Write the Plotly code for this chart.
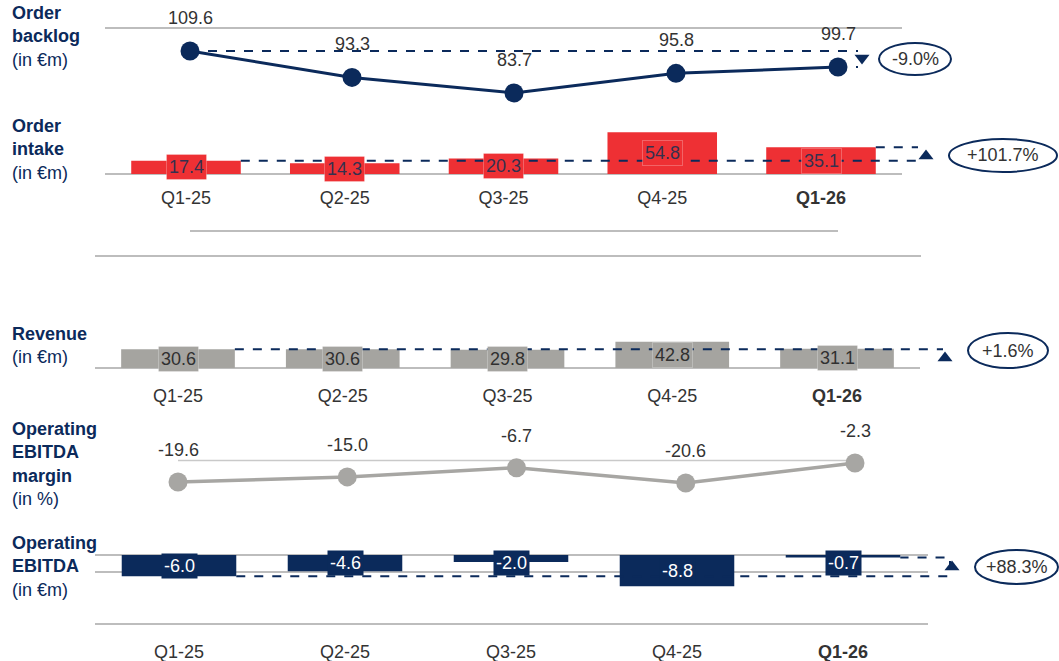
import plotly.graph_objects as go

# ---------------- data ----------------
quarters = ["Q1-25", "Q2-25", "Q3-25", "Q4-25", "Q1-26"]
order_backlog = [109.6, 93.3, 83.7, 95.8, 99.7]
order_intake = [17.4, 14.3, 20.3, 54.8, 35.1]
revenue = [30.6, 30.6, 29.8, 42.8, 31.1]
ebitda_margin = [-19.6, -15.0, -6.7, -20.6, -2.3]
op_ebitda = [-6.0, -4.6, -2.0, -8.8, -0.7]

# ---------------- style / geometry ----------------
W, H = 1059, 661
NAVY = "#0b2a5b"
RED = "#ee3034"
GRAY_BAR = "#a5a4a0"
GRAY_LINE = "#a7a6a3"
RULE = "#bdbdbd"
TXT = "#333333"
FONT = "Liberation Sans, Arial, sans-serif"
FS = 18

# per panel: first category centre (px), category spacing (px), zero line (py), px per unit
geo = {
    1: (190, 162.0, 228.55, 1.62),
    2: (186, 158.75, 174.0, 0.76),
    3: (178, 164.75, 368.0, 0.615),
    4: (178, 169.25, 460.4, 1.10),
    5: (179, 166.0, 555.0, 3.55),
}
BAR_W = 0.69
idx = list(range(len(quarters)))


def xr(k):
    c0, s, z, b = geo[k]
    return [(0 - c0) / s, (W - c0) / s]


def yr(k):
    c0, s, z, b = geo[k]
    return [(z - H) / b, z / b]


def px2x(k, px):
    c0, s, z, b = geo[k]
    return (px - c0) / s


def py2v(k, py):
    c0, s, z, b = geo[k]
    return (z - py) / b


def py2paper(py):
    return 1 - py / H


def px2paper(px):
    return px / W


fig = go.Figure()

# ---- Panel 1: order backlog (line) ----
fig.add_trace(go.Scatter(x=idx, y=order_backlog, mode="lines+markers",
                         line=dict(color=NAVY, width=3),
                         marker=dict(color=NAVY, size=19),
                         xaxis="x", yaxis="y", cliponaxis=False))

# ---- Panel 2: order intake (bars) ----
fig.add_trace(go.Bar(x=idx, y=order_intake, width=BAR_W, marker=dict(color=RED, line=dict(width=0)),
                     xaxis="x2", yaxis="y2", cliponaxis=False))

# ---- Panel 3: revenue (bars) ----
fig.add_trace(go.Bar(x=idx, y=revenue, width=BAR_W, marker=dict(color=GRAY_BAR, line=dict(width=0)),
                     xaxis="x3", yaxis="y3", cliponaxis=False))

# ---- Panel 4: EBITDA margin (line) ----
fig.add_trace(go.Scatter(x=idx, y=ebitda_margin, mode="lines+markers",
                         line=dict(color=GRAY_LINE, width=3.5),
                         marker=dict(color=GRAY_LINE, size=19),
                         xaxis="x4", yaxis="y4", cliponaxis=False))

# ---- Panel 5: operating EBITDA (bars) ----
fig.add_trace(go.Bar(x=idx, y=op_ebitda, width=BAR_W, marker=dict(color=NAVY, line=dict(width=0)),
                     xaxis="x5", yaxis="y5", cliponaxis=False))

# ---------------- comparison dashed lines, triangles, ellipses ----------------
half = BAR_W / 2
cmp_specs = [
    # panel, axis suffix, series, x end of dashed (px), triangle (px, py), ellipse (x0,y0,x1,y1) px, is_bar
    (1, "", order_backlog, 858, (862, 58), (879, 43, 951, 75), False),
    (2, "2", order_intake, 918, (926, 156), (949, 139, 1057, 172), True),
    (3, "3", revenue, 943, (945, 358), (968, 333, 1048, 368), True),
    (5, "5", op_ebitda, 950, (952, 567), (975, 550, 1058, 584), True),
]
shapes = []
annotations = []
for k, sfx, vals, xend_px, tri, ell, is_bar in cmp_specs:
    v0, v4 = vals[0], vals[-1]
    xend = px2x(k, xend_px)
    start = half if is_bar else 0
    xa, ya = "x" + sfx, "y" + sfx
    if k == 5:
        xs = [start, xend, xend, 4 + half]
        ys = [v0, v0, v4, v4]
    else:
        xs = [start, xend]
        ys = [v0, v0]
    fig.add_trace(go.Scatter(x=xs, y=ys, mode="lines", line=dict(color=NAVY, width=2, dash="dash"),
                             xaxis=xa, yaxis=ya, hoverinfo="skip"))
    if k in (1, 2):
        x4s = 4 + (half if is_bar else 0.0)
        fig.add_trace(go.Scatter(x=[x4s, xend], y=[v4, v4], mode="lines",
                                 line=dict(color=NAVY, width=2, dash="dash"),
                                 xaxis=xa, yaxis=ya, hoverinfo="skip"))
    change = (v4 - v0) / abs(v0)
    fig.add_trace(go.Scatter(x=[px2x(k, tri[0])], y=[py2v(k, tri[1])], mode="markers",
                             marker=dict(symbol="triangle-up" if change >= 0 else "triangle-down",
                                         color=NAVY, size=13),
                             xaxis=xa, yaxis=ya, cliponaxis=False, hoverinfo="skip"))
    x0, y0, x1, y1 = ell
    shapes.append(dict(type="circle", xref="paper", yref="paper",
                       x0=px2paper(x0), x1=px2paper(x1), y0=py2paper(y1), y1=py2paper(y0),
                       line=dict(color=NAVY, width=2), fillcolor="white", layer="above"))
    annotations.append(dict(xref="paper", yref="paper", x=px2paper((x0 + x1) / 2),
                            y=py2paper((y0 + y1) / 2), xanchor="center", yanchor="middle",
                            text=f"{change * 100:+.1f}%",
                            showarrow=False, font=dict(family=FONT, size=FS, color=TXT)))

# ---------------- value labels ----------------
for i, v in enumerate(order_backlog):
    annotations.append(dict(xref="x", yref="y", x=i, y=v, yshift=33, text=f"{v:.1f}",
                            showarrow=False, font=dict(family=FONT, size=FS, color=TXT)))
for i, v in enumerate(ebitda_margin):
    annotations.append(dict(xref="x4", yref="y4", x=i, y=v, yshift=32, text=f"{v:.1f}",
                            showarrow=False, font=dict(family=FONT, size=FS, color=TXT)))
for i, v in enumerate(order_intake):
    annotations.append(dict(xref="x2", yref="y2", x=i, y=v / 2, text=f"{v:.1f}", showarrow=False,
                            font=dict(family=FONT, size=FS, color="#35304f"),
                            bgcolor=RED, bordercolor="rgba(255,255,255,0.25)", borderwidth=1, borderpad=2))
for i, v in enumerate(revenue):
    annotations.append(dict(xref="x3", yref="y3", x=i, y=v / 2, text=f"{v:.1f}", showarrow=False,
                            font=dict(family=FONT, size=FS, color="#303030"),
                            bgcolor=GRAY_BAR, bordercolor="rgba(255,255,255,0.25)", borderwidth=1, borderpad=2))
for i, v in enumerate(op_ebitda):
    annotations.append(dict(xref="x5", yref="y5", x=i, y=min(v / 2, -2.2), text=f"{v:.1f}", showarrow=False,
                            font=dict(family=FONT, size=FS, color="white"),
                            bgcolor=NAVY, borderpad=2))

# ---------------- left row titles ----------------
titles = [
    ("<b>Order</b><br><b>backlog</b><br>(in €m)", 37),
    ("<b>Order</b><br><b>intake</b><br>(in €m)", 149),
    ("<b>Revenue</b><br>(in €m)", 345),
    ("<b>Operating</b><br><b>EBITDA</b><br><b>margin</b><br>(in %)", 464),
    ("<b>Operating</b><br><b>EBITDA</b><br>(in €m)", 566),
]
for t, py in titles:
    annotations.append(dict(xref="paper", yref="paper", x=px2paper(10), y=py2paper(py), text=t,
                            xanchor="left", yanchor="middle", align="left", showarrow=False,
                            font=dict(family=FONT, size=FS, color=NAVY)))

# ---------------- rules ----------------
def hrule(x0, x1, py=None, yref="paper", yval=None, color=RULE, width=2):
    shapes.append(dict(type="line", xref="paper", yref=yref,
                       x0=px2paper(x0), x1=px2paper(x1),
                       y0=py2paper(py) if yval is None else yval,
                       y1=py2paper(py) if yval is None else yval,
                       line=dict(color=color, width=width), layer="below"))

hrule(105, 902, py=28)
hrule(105, 902, yref="y2", yval=0)
hrule(190, 838, py=231)
hrule(95, 921, py=256)
hrule(95, 920, yref="y3", yval=0)
hrule(178, 862, yref="y4", yval=0, color="#c9c9c9", width=1.5)
hrule(95, 928, yref="y5", yval=0)
hrule(95, 928, py=572)
hrule(95, 928, py=624)

# ---------------- axes ----------------
ticktext = [f"<b>{q}</b>" if i == len(quarters) - 1 else q for i, q in enumerate(quarters)]
layout_axes = {}
label_rows = {2: 197, 3: 395, 5: 651}
for k in range(1, 6):
    sfx = "" if k == 1 else str(k)
    xa = dict(domain=[0, 1], range=xr(k), showgrid=False, zeroline=False, showline=False,
              fixedrange=True)
    if k in label_rows:
        xa.update(anchor="free", position=py2paper(label_rows[k] - 12), tickmode="array",
                  tickvals=idx, ticktext=ticktext, ticks="", showticklabels=True,
                  tickfont=dict(family=FONT, size=FS, color=TXT))
    else:
        xa.update(anchor="y" + sfx, visible=False)
    ya = dict(domain=[0, 1], range=yr(k), anchor="x" + sfx, visible=False, fixedrange=True)
    layout_axes["xaxis" + sfx] = xa
    layout_axes["yaxis" + sfx] = ya

fig.update_layout(
    width=W, height=H, margin=dict(l=0, r=0, t=0, b=0),
    paper_bgcolor="white", plot_bgcolor="rgba(0,0,0,0)",
    showlegend=False, barmode="overlay",
    shapes=shapes, annotations=annotations,
    font=dict(family=FONT, size=FS, color=TXT),
    **layout_axes,
)

fig.write_html("out.html", config={"displayModeBar": False},
               post_script="document.body.style.margin='0';document.body.style.overflow='hidden';")
